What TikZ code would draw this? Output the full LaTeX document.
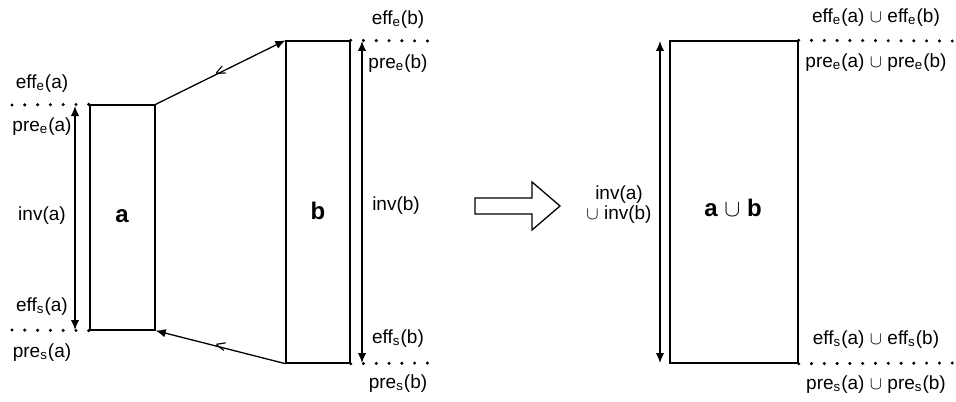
\documentclass[tikz,border=0pt]{standalone}
\usepackage{fontspec}
\setmainfont{Liberation Sans}
\usetikzlibrary{arrows.meta}
\newcommand{\sub}[1]{\textsubscript{#1}}
\newcommand{\un}{\ensuremath{\cup}}
\begin{document}
\begin{tikzpicture}[>={Latex[length=5pt,width=4.2pt]}, x=0.5pt, y=-0.5pt,
    lbl/.style={font=\fontsize{9.5}{11}\selectfont, inner sep=0pt},
    blk/.style={draw, line width=0.65pt, inner sep=0pt},
    blktag/.style={font=\fontsize{12}{14}\selectfont\bfseries, inner sep=0pt},
    conn/.style={->, line width=0.65pt},
    span/.style={<->, line width=0.65pt},
    dots/.style={line width=1.7pt, line cap=round, dash pattern=on 0pt off 6.4pt}]
  \useasboundingbox (0,0) rectangle (956,401);

  % the two blocks and their union
  \node[blk, minimum width=32.5pt, minimum height=112.5pt] (a) at (122.5,217.5) {};
  \node[blk, minimum width=32pt, minimum height=161pt] (b) at (318,202) {};
  \node[blk, minimum width=64pt, minimum height=161pt] (ab) at (734,202) {};
  \node[blktag] (taga) at (122,216) {a};
  \node[blktag] (tagb) at (318,211) {b};
  \node[blktag] (tagab) at (733,208) {a \un{} b};

  % ordering arrows between a and b
  \draw[conn] (a.north east) -- node[sloped, inner sep=0pt, font=\small] {<} (b.north west);
  \draw[conn] (b.south west) -- node[sloped, inner sep=0pt, font=\small] {<} (a.south east);

  % start and end levels
  \draw[dots] (12,105) -- (a.north west);
  \draw[dots] (12,330) -- (a.south west);
  \draw[dots] (b.north east) -- (430,41);
  \draw[dots] (b.south east) -- (430,363);
  \draw[dots] (ab.north east) -- (956,41);
  \draw[dots] (ab.south east) -- (956,363);

  % invariant spans
  \coordinate (atop) at (75,106);
  \coordinate (abot) at (75,330);
  \coordinate (btop) at (362,41);
  \coordinate (bbot) at (362,363);
  \coordinate (utop) at (660,41);
  \coordinate (ubot) at (660,363);
  \draw[span] (abot) -- (atop);
  \draw[span] (bbot) -- (btop);
  \draw[span] (ubot) -- (utop);

  % labels of a
  \node[lbl] (effea) at (42,84) {eff\sub{e}(a)};
  \node[lbl] (prea) at (42,127) {pre\sub{e}(a)};
  \node[lbl] (inva) at (42,216) {inv(a)};
  \node[lbl] (effsa) at (42,307) {eff\sub{s}(a)};
  \node[lbl] (presa) at (42,353) {pre\sub{s}(a)};

  % labels of b
  \node[lbl] (effeb) at (398,20) {eff\sub{e}(b)};
  \node[lbl] (preeb) at (398,64) {pre\sub{e}(b)};
  \node[lbl] (invb) at (396,206) {inv(b)};
  \node[lbl] (effsb) at (398,339) {eff\sub{s}(b)};
  \node[lbl] (presb) at (398,384) {pre\sub{s}(b)};

  % merge arrow
  \draw[line width=0.65pt] (475,198) -- (532,198) -- (532,182) -- (560,206)
    -- (532,230) -- (532,214) -- (475,214) -- cycle;

  % labels of the union
  \node[lbl, align=center] (invab) at (619,205) {inv(a)\\[-1pt]\un{} inv(b)};
  \node[lbl] (effeab) at (876,18) {eff\sub{e}(a) \un{} eff\sub{e}(b)};
  \node[lbl] (preeab) at (876,63) {pre\sub{e}(a) \un{} pre\sub{e}(b)};
  \node[lbl] (effsab) at (876,340) {eff\sub{s}(a) \un{} eff\sub{s}(b)};
  \node[lbl] (presab) at (876,385) {pre\sub{s}(a) \un{} pre\sub{s}(b)};
\end{tikzpicture}
\end{document}
